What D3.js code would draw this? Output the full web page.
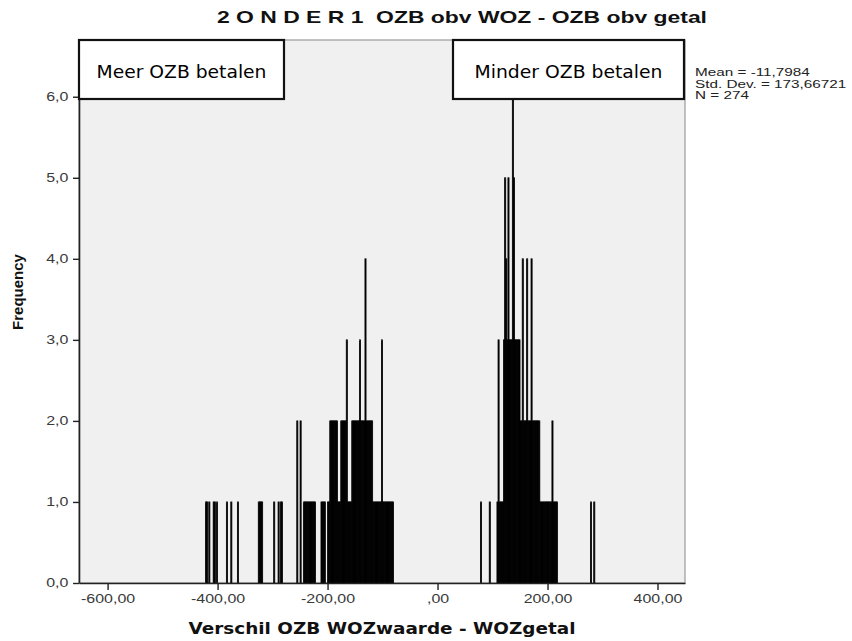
<!DOCTYPE html>
<html>
<head>
<meta charset="utf-8">
<script src="https://cdn.jsdelivr.net/npm/d3@7/dist/d3.min.js"></script>
<style>
  html, body { margin: 0; padding: 0; background: #fff; }
  svg { display: block; }
  text { white-space: pre; }
</style>
</head>
<body>
<svg id="chart" width="852" height="641"></svg>
<script>
// ---- data ----
const binWidth = 2;
// left edge of each non-empty bin
const binStart = [
  -422, -420, -416, -408, -406, -402, -384, -376, -364,
  -326, -324, -322, -320, -298, -290, -286, -284,
  -256, -250,
  -244, -242, -240, -238, -236, -234, -232, -230, -228, -226, -224,
  -212, -210, -208, -206,
  -200, -198, -196, -194, -192, -190, -188, -186, -184, -182, -180, -178,
  -176, -174, -172, -170, -168, -166, -164, -162, -160, -158,
  -156, -154, -152, -150, -148, -146, -144, -142, -140, -138, -136, -134,
  -132, -130, -128, -126, -124, -122, -120,
  -118, -116, -114, -112, -110, -108, -106, -104, -102,
  -100, -98, -96, -94, -92, -90, -88, -86, -84, -82,
  78, 94,
  108, 110, 112, 114, 116, 118, 120, 122, 124, 126, 128, 130, 132, 134,
  136, 138, 140, 142, 144, 146, 148, 150, 152, 154, 156, 158, 160,
  162, 164, 166, 168, 170, 172, 174, 176, 178, 180, 182, 184,
  186, 188, 190, 192, 194, 196, 198, 200, 202, 204, 206, 208, 210, 212, 214, 216,
  278, 284
];
const frequency = [
  1, 1, 1, 1, 1, 1, 1, 1, 1,
  1, 1, 1, 1, 1, 1, 1, 1,
  2, 2,
  1, 1, 1, 1, 1, 1, 1, 1, 1, 1, 1,
  1, 1, 1, 1,
  1, 1, 2, 2, 2, 2, 2, 2, 2, 1, 1, 1,
  2, 2, 2, 2, 2, 3, 1, 1, 1, 1,
  2, 2, 2, 2, 2, 2, 2, 3, 2, 2, 2, 2,
  4, 2, 2, 2, 2, 2, 2,
  1, 1, 1, 1, 1, 1, 1, 1, 3,
  1, 1, 1, 1, 1, 1, 1, 1, 1, 1,
  1, 1,
  1, 3, 1, 1, 1, 1, 3, 5, 4, 3, 5, 3, 3, 3,
  6, 5, 3, 3, 3, 3, 3, 2, 2, 4, 2, 2, 2,
  4, 2, 2, 2, 4, 2, 2, 2, 2, 2, 2, 2,
  1, 1, 1, 1, 1, 1, 1, 1, 1, 1, 1, 2, 1, 1, 1, 1,
  1, 1
];
const xTicks = [-600, -400, -200, 0, 200, 400];
const yTicks = [0, 1, 2, 3, 4, 5, 6];
const chartTitle = "2 O N D E R 1  OZB obv WOZ - OZB obv getal";
const xTitle = "Verschil OZB WOZwaarde - WOZgetal";
const yTitle = "Frequency";
const statsLines = ["Mean = -11,7984", "Std. Dev. = 173,66721", "N = 274"];
const boxLabels = ["Meer OZB betalen", "Minder OZB betalen"];

// ---- layout ----
const svg = d3.select("#chart");
const P = { left: 79, right: 685, top: 40, bottom: 583 };
const x = d3.scaleLinear().domain([-652, 450]).range([P.left, P.right]);
const y = d3.scaleLinear().domain([0, 6.7]).range([P.bottom, P.top]);
const SX = 1.33; // horizontal stretch of the original image's lettering

const bins = binStart.map((s, i) => ({ x0: s, x1: s + binWidth, n: frequency[i] }));

// plot background
svg.append("rect")
  .attr("x", P.left).attr("y", P.top)
  .attr("width", P.right - P.left).attr("height", P.bottom - P.top)
  .attr("fill", "#f0f0f0").attr("stroke", "#9a9a9a").attr("stroke-width", 1.2);

// bars
svg.append("g").selectAll("rect").data(bins).join("rect")
  .attr("x", d => x(d.x0))
  .attr("y", d => y(d.n))
  .attr("width", d => x(d.x1) - x(d.x0))
  .attr("height", d => y(0) - y(d.n))
  .attr("fill", "#000")
  .attr("stroke", "#000")
  .attr("stroke-width", 0.8);

// axes
const fmtX = v => v === 0 ? ",00" : v.toFixed(2).replace(".", ",");
const fmtY = v => v.toFixed(1).replace(".", ",");

const gx = svg.append("g").attr("transform", `translate(0,${P.bottom})`)
  .call(d3.axisBottom(x).tickValues(xTicks).tickFormat(fmtX).tickSize(7).tickSizeOuter(0).tickPadding(4));
const gy = svg.append("g").attr("transform", `translate(${P.left},0)`)
  .call(d3.axisLeft(y).tickValues(yTicks).tickFormat(fmtY).tickSize(6).tickSizeOuter(0).tickPadding(2));
[gx, gy].forEach(g => {
  g.select(".domain").attr("stroke", "#222").attr("stroke-width", 1.6);
  g.selectAll(".tick line").attr("stroke", "#222").attr("stroke-width", 1.4);
  g.selectAll(".tick text").attr("fill", "#3a3a3a")
    .style("font-family", "'Liberation Sans', Arial, sans-serif").style("font-size", "12px")
    .attr("transform", `scale(${SX},1)`);
});

// annotation boxes
const boxes = [
  { x0: P.left, x1: 284, tl: 170, label: boxLabels[0] },
  { x0: 453, x1: 684, tl: 188, label: boxLabels[1] }
];
boxes.forEach(b => {
  svg.append("rect")
    .attr("x", b.x0).attr("y", P.top)
    .attr("width", b.x1 - b.x0).attr("height", 59)
    .attr("fill", "#fff").attr("stroke", "#111").attr("stroke-width", 2.2);
  svg.append("text")
    .attr("x", (b.x0 + b.x1) / 2).attr("y", P.top + 38)
    .attr("text-anchor", "middle")
    .attr("textLength", b.tl).attr("lengthAdjust", "spacingAndGlyphs")
    .style("font-family", "'DejaVu Sans', Verdana, sans-serif")
    .style("font-size", "18px").attr("fill", "#000")
    .text(b.label);
});

// titles
svg.append("text")
  .attr("x", 462).attr("y", 23).attr("text-anchor", "middle")
  .attr("textLength", 490).attr("lengthAdjust", "spacingAndGlyphs")
  .style("font-family", "'Liberation Sans', Arial, sans-serif")
  .style("font-size", "17px").style("font-weight", "bold").attr("fill", "#111")
  .text(chartTitle);

svg.append("text")
  .attr("x", (P.left + P.right) / 2).attr("y", 634).attr("text-anchor", "middle")
  .attr("textLength", 387).attr("lengthAdjust", "spacingAndGlyphs")
  .style("font-family", "'DejaVu Sans', Verdana, sans-serif")
  .style("font-size", "16px").style("font-weight", "bold").attr("fill", "#111")
  .text(xTitle);

svg.append("text")
  .attr("transform", `translate(23,292) rotate(-90)`)
  .attr("text-anchor", "middle")
  .style("font-family", "'Liberation Sans', Arial, sans-serif")
  .style("font-size", "15px").style("font-weight", "bold").attr("fill", "#111")
  .text(yTitle);

// stats
svg.append("g").selectAll("text").data(statsLines).join("text")
  .attr("transform", (d, i) => `translate(695,${76 + i * 11.5}) scale(${SX},1)`)
  .style("font-family", "'Liberation Sans', Arial, sans-serif")
  .style("font-size", "11.5px").attr("fill", "#222")
  .text(d => d);
</script>
</body>
</html>
